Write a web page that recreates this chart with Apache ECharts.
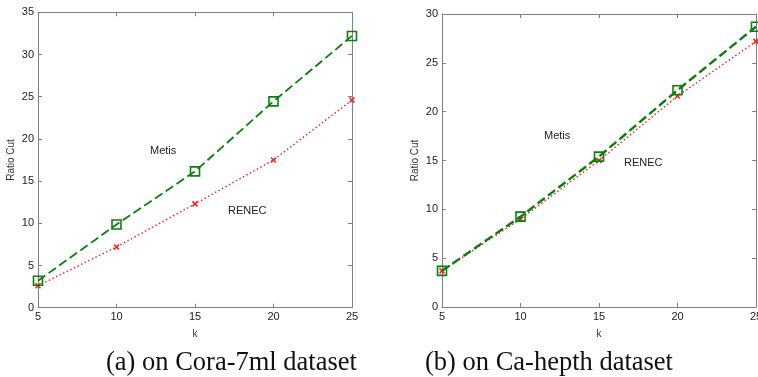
<!DOCTYPE html>
<html>
<head>
<meta charset="utf-8">
<script src="https://cdn.jsdelivr.net/npm/echarts@6/dist/echarts.min.js"></script>
<style>html,body{margin:0;padding:0;background:#fff}#c{width:758px;height:377px}</style>
</head>
<body>
<div id="c"></div>
<script>
// Data
const kValues = [5, 10, 15, 20, 25];
const coraMetis = [3.2, 9.85, 16.15, 24.45, 32.2];
const coraRenec = [2.6, 7.2, 12.3, 17.5, 24.6];
const hepthMetis = [3.7, 9.25, 15.4, 22.2, 28.7];
const hepthRenec = [3.7, 9.0, 15.0, 21.6, 27.2];
const coraYTicks = { min: 0, max: 35, interval: 5 };
const hepthYTicks = { min: 0, max: 30, interval: 5 };
const xTicks = { min: 5, max: 25, interval: 5 };
const captions = ['(a) on Cora-7ml dataset', '(b) on Ca-hepth dataset'];

const axisGray = '#808080';
const green = '#0a800a';
const red = '#ff1a1a';
const font = 'Liberation Sans, Arial, sans-serif';

function pairData(xs, ys) { return xs.map((x, i) => [x, ys[i]]); }

function xAxes(gi) {
  const base = {
    type: 'value', gridIndex: gi, min: xTicks.min, max: xTicks.max, interval: xTicks.interval,
    axisLine: { onZero: false, lineStyle: { color: axisGray, width: 1 } },
    axisTick: { inside: true, length: 4, lineStyle: { color: axisGray } },
    splitLine: { show: false }
  };
  return [
    Object.assign({}, base, {
      position: 'bottom', name: 'k', nameLocation: 'middle', nameGap: 22,
      nameTextStyle: { fontFamily: font, fontSize: 10, color: '#333' },
      axisLabel: { fontFamily: font, fontSize: 11, color: '#222', margin: 4, hideOverlap: false }
    }),
    Object.assign({}, base, { position: 'top', axisLabel: { show: false } })
  ];
}
function yAxes(gi, t) {
  const base = {
    type: 'value', gridIndex: gi, min: t.min, max: t.max, interval: t.interval,
    axisLine: { show: true, onZero: false, lineStyle: { color: axisGray, width: 1 } },
    axisTick: { show: true, inside: true, length: 4, lineStyle: { color: axisGray } },
    splitLine: { show: false }
  };
  return [
    Object.assign({}, base, {
      position: 'left', name: 'Ratio Cut', nameLocation: 'middle', nameGap: 22,
      nameTextStyle: { fontFamily: font, fontSize: 10, color: '#333' },
      axisLabel: { fontFamily: font, fontSize: 11, color: '#222', margin: 4 }
    }),
    Object.assign({}, base, { position: 'right', axisLabel: { show: false } })
  ];
}

function metisSeries(xi, yi, data, w) {
  return {
    type: 'line', name: 'Metis', xAxisIndex: xi, yAxisIndex: yi, data: data,
    symbol: 'rect', symbolSize: 9, showAllSymbol: true,
    lineStyle: { color: green, width: w, type: [9, 4] },
    itemStyle: { color: 'rgba(255,255,255,0)', borderColor: green, borderWidth: 1.6 },
    z: 3
  };
}
function renecSeries(xi, yi, data) {
  return {
    type: 'line', name: 'RENEC', xAxisIndex: xi, yAxisIndex: yi, data: data,
    symbol: 'path://M0,0L10,10M10,0L0,10', symbolSize: 5, showAllSymbol: true,
    lineStyle: { color: red, width: 1.4, type: [1.5, 2.5] },
    itemStyle: { color: red, borderColor: red, borderWidth: 1.5 },
    z: 2
  };
}

const chart = echarts.init(document.getElementById('c'), null, { renderer: 'canvas' });
chart.setOption({
  animation: false,
  backgroundColor: '#fff',
  grid: [
    { left: 38, right: 406, top: 12.3, bottom: 69.3, outerBoundsMode: 'none', containLabel: false },
    { left: 442, right: 2, top: 14, bottom: 70, outerBoundsMode: 'none', containLabel: false }
  ],
  xAxis: [].concat(xAxes(0), xAxes(1)),
  yAxis: [].concat(yAxes(0, coraYTicks), yAxes(1, hepthYTicks)),
  series: [
    renecSeries(0, 0, pairData(kValues, coraRenec)),
    metisSeries(0, 0, pairData(kValues, coraMetis), 1.8),
    renecSeries(2, 2, pairData(kValues, hepthRenec)),
    metisSeries(2, 2, pairData(kValues, hepthMetis), 2.4)
  ],
  graphic: [
    { type: 'text', left: 150, top: 145, style: { text: 'Metis', font: '11px ' + font, fill: '#222' } },
    { type: 'text', left: 228, top: 205, style: { text: 'RENEC', font: '11px ' + font, fill: '#222' } },
    { type: 'text', left: 544, top: 130, style: { text: 'Metis', font: '11px ' + font, fill: '#222' } },
    { type: 'text', left: 624, top: 157, style: { text: 'RENEC', font: '11px ' + font, fill: '#222' } },
    { type: 'text', left: 106, top: 350, style: { text: captions[0], font: '26.5px Liberation Serif, Times New Roman, serif', fill: '#111' } },
    { type: 'text', left: 425, top: 350, style: { text: captions[1], font: '26.5px Liberation Serif, Times New Roman, serif', fill: '#111' } }
  ]
});
</script>
</body>
</html>
